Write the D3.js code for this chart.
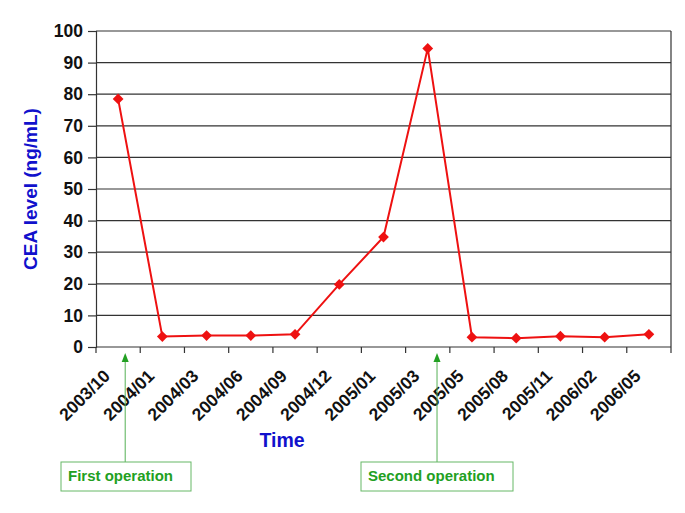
<!DOCTYPE html>
<html>
<head>
<meta charset="utf-8">
<script src="https://cdn.jsdelivr.net/npm/d3@7"></script>
<style>
  body { margin: 0; background: #fff; }
  text { font-family: "Liberation Sans", Arial, sans-serif; }
</style>
</head>
<body>
<div id="chart"></div>
<script>
// CEA level over time, with the two operation dates marked below the axis

const timeLabels = ["2003/10", "2004/01", "2004/03", "2004/06", "2004/09", "2004/12",
  "2005/01", "2005/03", "2005/05", "2005/08", "2005/11", "2006/02", "2006/05"];
const ceaValues = [78.5, 3.3, 3.6, 3.6, 4.0, 19.8, 34.8, 94.5, 3.1, 2.8, 3.4, 3.1, 4.0];
const yTicks = [0, 10, 20, 30, 40, 50, 60, 70, 80, 90, 100];
// operations sit between categories (position in category units)
const operations = [
  { label: "First operation", at: 0.66 },
  { label: "Second operation", at: 7.71 }
];

const width = 685, height = 513;
const margin = { top: 31, right: 14, bottom: 166, left: 96 };

const svg = d3.select("#chart")
  .append("svg")
  .attr("width", width)
  .attr("height", height);

const x = d3.scaleBand()
  .domain(timeLabels)
  .range([margin.left, width - margin.right]);

const y = d3.scaleLinear()
  .domain([0, 100])
  .range([height - margin.bottom, margin.top]);

const xPos = d3.scaleLinear()
  .domain([0, timeLabels.length])
  .range([margin.left, width - margin.right]);

// horizontal gridlines
svg.append("g")
  .selectAll("line")
  .data(yTicks.filter(d => d > 0))
  .join("line")
  .attr("x1", margin.left)
  .attr("x2", width - margin.right)
  .attr("y1", d => y(d))
  .attr("y2", d => y(d))
  .attr("stroke", "#333")
  .attr("stroke-width", 1.2);

// right border
svg.append("line")
  .attr("x1", width - margin.right).attr("x2", width - margin.right)
  .attr("y1", y(100)).attr("y2", y(0))
  .attr("stroke", "#333").attr("stroke-width", 1.2);

// y axis
const yAxis = svg.append("g")
  .attr("transform", `translate(${margin.left},0)`)
  .call(d3.axisLeft(y).tickValues(yTicks).tickSize(8).tickPadding(5));
yAxis.select(".domain").attr("stroke", "#333").attr("stroke-width", 1.2);
yAxis.selectAll(".tick line").attr("stroke", "#333").attr("stroke-width", 1.2);
yAxis.selectAll("text")
  .style("font-size", "17.5px")
  .style("font-weight", "bold")
  .attr("fill", "#111");

// x axis: ticks at category boundaries
const xAxis = svg.append("g")
  .attr("transform", `translate(0,${y(0)})`);
xAxis.append("line")
  .attr("x1", margin.left).attr("x2", width - margin.right)
  .attr("stroke", "#333").attr("stroke-width", 1.2);
xAxis.selectAll(".xtick")
  .data(d3.range(timeLabels.length + 1))
  .join("line")
  .attr("class", "xtick")
  .attr("x1", d => xPos(d)).attr("x2", d => xPos(d))
  .attr("y1", 0).attr("y2", 6)
  .attr("stroke", "#333").attr("stroke-width", 1.2);
xAxis.selectAll(".xlabel")
  .data(timeLabels)
  .join("text")
  .attr("class", "xlabel")
  .attr("transform", d => `translate(${x(d) + x.bandwidth() / 2 - 7},${30}) rotate(-45)`)
  .attr("text-anchor", "end")
  .style("font-size", "17.5px")
  .style("font-weight", "bold")
  .attr("fill", "#111")
  .text(d => d);

// data line
const line = d3.line()
  .x((d, i) => x(timeLabels[i]) + x.bandwidth() / 2)
  .y(d => y(d));

svg.append("path")
  .datum(ceaValues)
  .attr("d", line)
  .attr("fill", "none")
  .attr("stroke", "#ee1111")
  .attr("stroke-width", 2);

svg.append("g")
  .selectAll("path")
  .data(ceaValues)
  .join("path")
  .attr("d", d3.symbol().type(d3.symbolSquare).size(58))
  .attr("transform", (d, i) => `translate(${x(timeLabels[i]) + x.bandwidth() / 2},${y(d)}) rotate(45)`)
  .attr("fill", "#ee1111");

// axis titles
svg.append("text")
  .attr("transform", `translate(37,${(y(0) + y(100)) / 2}) rotate(-90)`)
  .attr("text-anchor", "middle")
  .style("font-size", "19px")
  .style("font-weight", "bold")
  .attr("fill", "#1111cc")
  .text("CEA level (ng/mL)");

svg.append("text")
  .attr("x", 282)
  .attr("y", 447)
  .attr("text-anchor", "middle")
  .style("font-size", "19.5px")
  .style("font-weight", "bold")
  .attr("fill", "#1111cc")
  .text("Time");

// operation annotations
const green = "#22a022";
const boxes = [
  { w: 130, left: 61 },
  { w: 152, left: 361 }
];
operations.forEach((op, i) => {
  const ax = xPos(op.at);
  const g = svg.append("g");
  g.append("line")
    .attr("x1", ax).attr("x2", ax)
    .attr("y1", 462).attr("y2", 360)
    .attr("stroke", "#55b055").attr("stroke-width", 1);
  g.append("path")
    .attr("d", `M${ax},353 L${ax - 3.5},362 L${ax + 3.5},362 Z`)
    .attr("fill", green);
  g.append("rect")
    .attr("x", boxes[i].left).attr("y", 462)
    .attr("width", boxes[i].w).attr("height", 29)
    .attr("fill", "#fff")
    .attr("stroke", "#66b866").attr("stroke-width", 1);
  g.append("text")
    .attr("x", boxes[i].left + 7)
    .attr("y", 481)
    .style("font-size", "15px")
    .style("font-weight", "bold")
    .attr("fill", green)
    .text(op.label);
});
</script>
</body>
</html>
